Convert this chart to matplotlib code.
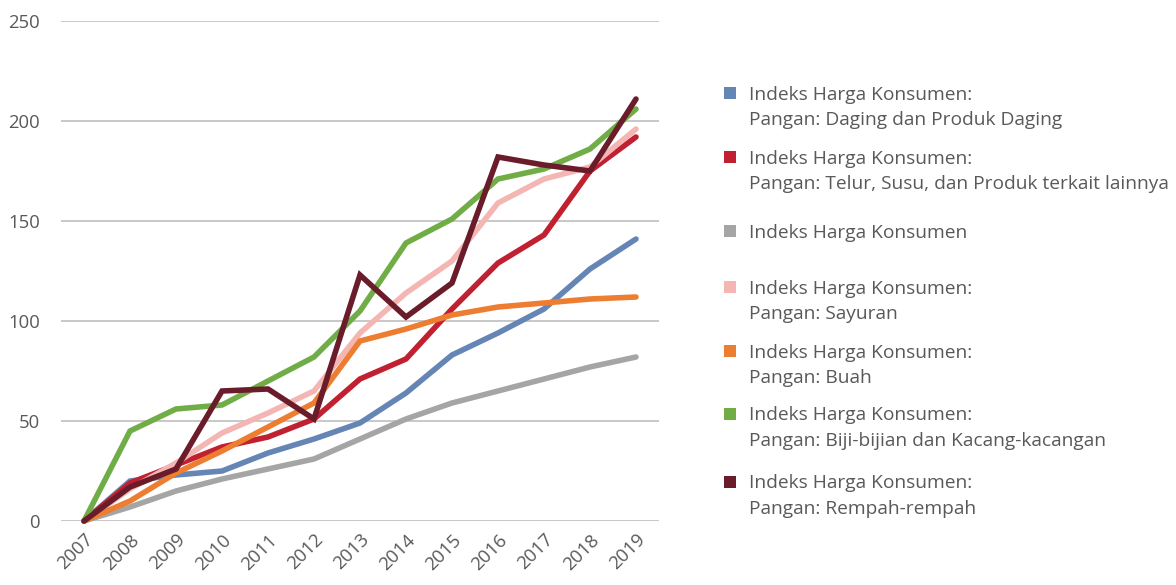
import matplotlib.pyplot as plt
from matplotlib.patches import Rectangle

plt.rcParams['font.family'] = ['Open Sans', 'DejaVu Sans']

# data
years = [2007, 2008, 2009, 2010, 2011, 2012, 2013, 2014, 2015, 2016, 2017, 2018, 2019]
daging = [0, 20, 23, 25, 34, 41, 49, 64, 83, 94, 106, 126, 141]
telur = [0, 19, 28, 37, 42, 51, 71, 81, 106, 129, 143, 175, 192]
ihk = [0, 7, 15, 21, 26, 31, 41, 51, 59, 65, 71, 77, 82]
sayuran = [0, 16, 29, 44, 54, 65, 94, 114, 130, 159, 171, 177, 196]
buah = [0, 10, 24, 35, 47, 59, 90, 96, 103, 107, 109, 111, 112]
biji = [0, 45, 56, 58, 70, 82, 105, 139, 151, 171, 176, 186, 206]
rempah = [0, 17, 26, 65, 66, 51, 123, 102, 119, 182, 178, 175, 211]

series = [
    (daging, '#6585B5', ['Indeks Harga Konsumen:', 'Pangan: Daging dan Produk Daging']),
    (telur, '#C0202F', ['Indeks Harga Konsumen:', 'Pangan: Telur, Susu, dan Produk terkait lainnya']),
    (ihk, '#A5A5A5', ['Indeks Harga Konsumen']),
    (sayuran, '#F4B6B3', ['Indeks Harga Konsumen:', 'Pangan: Sayuran']),
    (buah, '#ED7D31', ['Indeks Harga Konsumen:', 'Pangan: Buah']),
    (biji, '#70AD47', ['Indeks Harga Konsumen:', 'Pangan: Biji-bijian dan Kacang-kacangan']),
    (rempah, '#6B1C2B', ['Indeks Harga Konsumen:', 'Pangan: Rempah-rempah']),
]

text_col = '#595959'
W, H = 1176, 585

fig = plt.figure(figsize=(W / 100, H / 100), dpi=100)
ax = fig.add_axes([61 / W, 1 - 521 / H, 598 / W, 500 / H])

for vals, col, lab in series:
    ax.plot(years, vals, color=col, lw=4, solid_capstyle='round',
            solid_joinstyle='miter', clip_on=False, zorder=3)

ax.set_xlim(2006.5, 2019.5)
ax.set_ylim(0, 250)
ax.set_yticks([0, 50, 100, 150, 200, 250])
ax.set_xticks(years)
ax.set_xticklabels([str(y) for y in years], rotation=45, ha='right',
                   rotation_mode='anchor')
ax.tick_params(axis='both', length=0, labelsize=13.3, colors=text_col)
ax.tick_params(axis='y', pad=15)
ax.tick_params(axis='x', pad=7)
ax.grid(axis='y', color='#BFBFBF', lw=1.2)
ax.set_axisbelow(True)
for s in ax.spines.values():
    s.set_visible(False)

# legend, drawn by hand
leg_y = [93, 157, 231, 287, 351, 414, 482]
for (vals, col, lines), yp in zip(series, leg_y):
    fig.patches.append(Rectangle((724 / W, 1 - (yp + 6) / H), 12 / W, 12 / H,
                                 transform=fig.transFigure, facecolor=col,
                                 edgecolor='none'))
    for i, line in enumerate(lines):
        fig.text(749 / W, 1 - (yp + 6.5 + 25.5 * i) / H, line, ha='left',
                 va='baseline', fontsize=13.8, color=text_col)

plt.savefig('out.png', dpi=100, facecolor='white')
